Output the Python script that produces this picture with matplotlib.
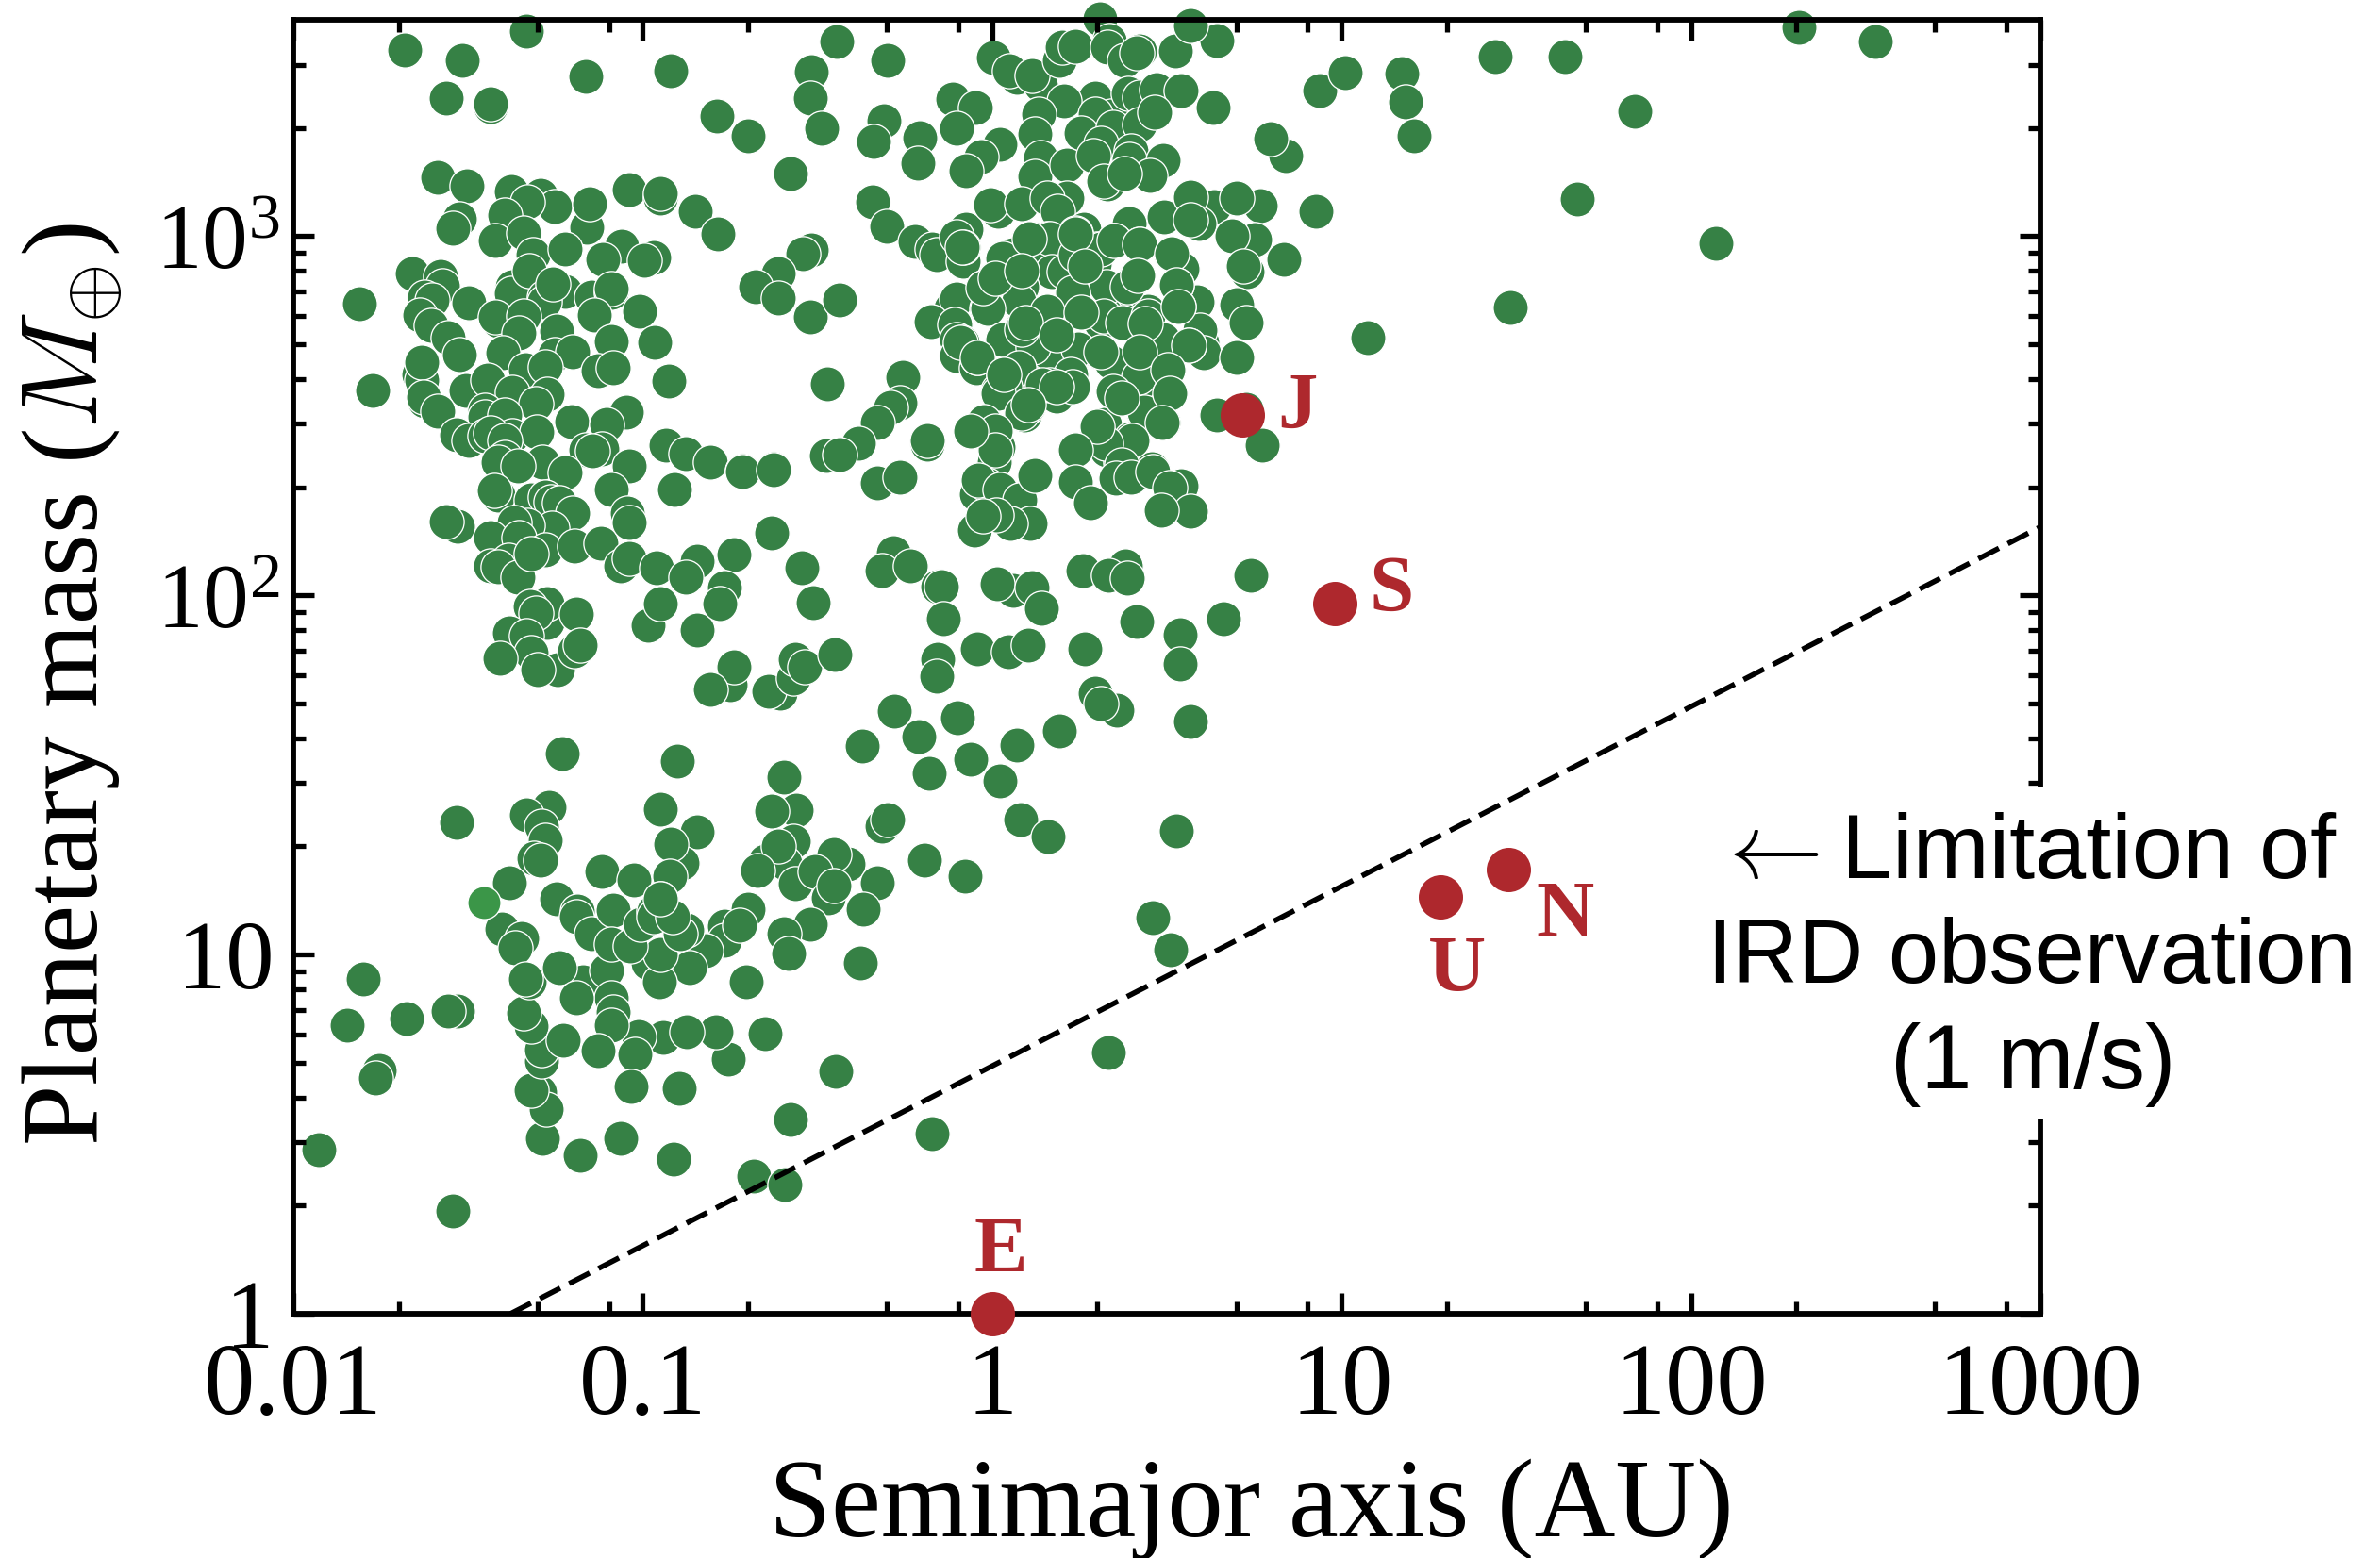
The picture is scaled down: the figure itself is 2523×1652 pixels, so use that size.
import numpy as np
import matplotlib
matplotlib.use("Agg")
import matplotlib.pyplot as plt
from matplotlib.patches import Rectangle
from matplotlib.ticker import NullFormatter

plt.rcParams['font.family'] = ['Liberation Serif', 'DejaVu Sans']
plt.rcParams['mathtext.fontset'] = 'cm'

# log10(semimajor axis / AU), log10(mass / earth), back dots first
log_a = [
 -1.682,-1.516,-1.334,-1.163,-.921,-1.562,-1.435,-1.435,-.787,-.698,-.577,-.517,-.521,-.488,
 -1.586,-1.504,-1.377,-1.294,-1.253,-1.330,-1.396,-1.161,-1.152,-1.038,-.95,-.95,-.849,-.784,
 -1.524,-1.543,-1.423,-1.340,-1.315,-1.222,-1.06,-1.114,-.97,-.996,-1.66,-1.579,-1.574,-1.625,-1.603,
 -1.81,-1.497,-1.638,-1.606,-1.558,-1.524,-1.374,-1.376,-1.326,-1.222,-1.283,-1.283,-1.257,-1.148,
 -1.09,-1.09,-1.14,-1.008,-1.413,-1.423,-1.341,-1.356,-1.248,-1.089,-.965,-1.401,-1.251,-1.2,-1.336,
 -1.278,-1.129,-1.085,-.926,-1.64,-1.633,-1.633,-1.774,-1.505,-1.444,-1.275,-1.374,-1.307,-1.625,-1.628,
 -1.587,-1.452,-1.452,-1.394,-1.203,-1.047,-1.105,-1.534,-1.498,-1.452,-1.374,-1.435,-1.303,-1.162,-1.117,
 -.933,-.876,-.806,-.714,-.625,-1.04,-.517,-.541,-.613,-.676,-.613,-.521,
 -.444,-.298,-.31,-.339,-.206,-.212,-.113,-.048,-.101,.022,-.033,-.075,.003,.07,.049,.138,.113,
 .191,.2,.238,.309,.335,.33,.379,.422,.414,.523,.642,.567,.938,1.01,.294,.205,.133,.123,.34,.294,.253,
 .345,.388,.422,.47,.54,.422,.465,.632,.138,.121,.215,.311,.29,.398,.393,.489,.451,.33,.318,.379,
 .841,.798,.926,-.342,-.301,-.222,-.171,-.159,-.075,-.103,-.084,-.084,.017,-.005,.085,.215,.156,.186,
 .128,.104,.263,.239,.393,.35,.422,.491,.636,.567,.591,.567,.767,.701,.75,.685,.834,.73,.719,
 .542,.512,.586,.533,.528,.388,.414,.335,.239,.263,.219,.186,.06,.085,.085,.007,-.026,-.118,-.103,
 -.017,.075,.147,.234,.446,.311,.374,.436,.251,.701,.726,.6,.595,.605,.562,.701,-.176,-.436,-.108,
 -.103,-.087,-.103,-.046,-.044,.033,.031,.094,.085,.109,.157,.184,.234,.311,.34,.485,.424,.504,.509,
 .412,.345,.372,.432,.489,.224,.224,.147,.186,.051,.017,.091,.104,-.256,-.265,-.29,-.328,-.473,-.383,
 -.475,-.436,-.185,-.185,-.022,-.06,.007,.017,.007,.239,.321,.301,.326,.398,.369,.456,.642,.774,.727,
 .157,.283,.301,.324,.418,.076,.184,.157,.148,-1.395,-1.143,-1.395,
 # dense clump around 1-3 AU, second reading from a closer look
 .031,.13,.166,.17,.207,.238,.292,.31,.328,.387,.229,.085,.076,-.014,-.027,.157,.031,.117,.085,.247,
 .319,.373,.445,.49,.076,.225,.229,.166,.036,.018,.342,.418,.346,.436,.085,-.023,.009,.009,
 .105,.238,.349,.423,.513,.265,.415,.528,.532,.009,.085,-.086,.253,.096,.184,.439,.562,.31,.423,-.09,
 -.044,.034,.144,.184,.504,.508,.37,.487,.103,-.061,.4,.324,.299,.238,.371,
 -1.413,-1.288,-1.357,-1.222,-1.413,-1.426,-1.32,-1.278,-1.264,-1.24,-1.201,-1.259,-1.331,-1.368,
 -1.529,-1.562,-1.437,-1.355,-1.278,-1.196,-1.119,-1.089,-1.045,-1.04,-1.063,-1.04,-.96,-.909,-.844,
 -.876,-.74,-.632,-.716,-.625,-.545,-.512,-.984,-.95,-.844,-.767,-.779,-1.437,-1.384,-1.413,-1.358,
 -1.321,-1.273,-1.275,-1.323,-1.305,-1.191,-1.382,-1.334,-1.321,-1.408,-1.244,-1.302,-1.196,-1.179,
 -.75,-.738,-.808,-.608,-.639,-.57,-.563,-.536,-1.23,-.902,-.597,-.95,-.844,-.888,-.921,-.923,-.95,
 -1.117,-1.025,-1.532,-1.268,-1.333,-1.29,-1.278,-1.312,-1.293,-1.381,-.56,-.632,-.57,-.651,-.594,-.611,
 -.671,-.565,-.698,
 -.33,-.264,-.046,-.017,-.041,.022,.08,.122,-.05,.109,.051,.012,-.026,.354,.239,.282,.398,.46,.54,.509,
 .567,.485,-.284,-.314,-.234,-.156,-.144,-.14,.06,.015,.115,.142,.26,.38,.332,.386,.74,.414,.539,.663,
 .539,.265,-.044,.046,.104,-.449,-.155,-.158,.295,.357,.311,.567,-.281,-.099,-.211,-.371,.07,.191,
 -.062,-.179,.023,.082,.161,.528,-.316,-.299,-.412,-.453,-.508,-.47,-.454,-.33,-.193,-.077,-.369,
 -1.246,-1.187,-1.189,-1.403,-1.346,-1.365,-1.147,-1.085,-.52,-.596,-.582,-.765,-.765,-.723,-.821,-.867,
 -.378,-.704,-.943,-1.012,-1.024,-.756,-.791,-.873,-.651,-.448,-.578,-.173,-.896,-1.033,-.683,-.594,
 -.912,-1.064,-1.179,-1.287,-1.544,-1.928,-1.295,-1.277,-1.319,-1.29,-1.29,-1.32,-1.341,-1.325,-1.335,
 -1.172,-1.238,-1.103,-1.09,-1.19,-1.084,-1.09,-1.229,-1.129,-.984,-.952,-.949,-.873,-.894,-1.09,
 -1.036,-1.006,-.97,-.97,-.915,-.95,-1.53,-1.556,-1.799,-1.846,-1.676,-1.755,-1.766,
 .459,.511,.333,1.076,1.171,1.184,1.206,1.44,1.64,1.675,1.484,1.84,2.07,2.309,2.527,
]
log_m = [
 3.519,3.489,3.571,3.444,3.460,3.383,3.361,3.368,3.334,3.280,3.173,3.458,3.385,3.301,
 3.164,3.139,3.125,3.114,3.082,3.095,3.058,3.025,3.089,3.130,3.105,3.118,3.068,3.005,
 3.048,3.022,2.989,3.009,2.948,2.964,2.972,2.936,2.941,2.933,2.897,2.888,2.863,2.83,2.823,
 2.811,2.815,2.781,2.751,2.718,2.669,2.858,2.84,2.904,2.847,2.829,2.818,2.867,2.83,
 2.843,2.853,2.781,2.79,2.764,2.774,2.777,2.731,2.736,2.707,2.705,2.676,2.669,2.678,2.628,
 2.635,2.626,2.634,2.597,2.615,2.598,2.648,2.57,2.57,2.6,2.561,2.566,2.533,2.541,2.551,
 2.512,2.515,2.497,2.501,2.483,2.51,2.477,2.446,2.43,2.445,2.445,2.451,2.456,2.405,2.408,
 2.418,2.394,2.37,2.348,2.353,2.361,2.961,2.952,2.897,2.858,2.828,2.775,
 3.542,3.489,3.322,3.264,3.273,3.203,3.382,3.358,3.299,3.256,3.221,3.182,3.497,3.442,3.459,3.42,3.448,
 3.49,3.525,3.529,3.604,3.543,3.527,3.49,3.515,3.509,3.516,3.543,3.585,3.404,3.455,3.385,3.375,3.34,3.284,3.333,3.339,3.286,
 3.302,3.398,3.387,3.407,3.406,3.311,3.346,3.359,3.219,3.166,3.199,3.258,3.223,3.236,3.214,3.21,3.169,3.144,3.153,3.175,
 3.225,3.271,3.068,3.096,3.028,2.984,2.963,2.949,3.019,2.998,2.93,2.969,3.07,3.088,3.089,3.105,3.105,3.07,
 2.991,2.991,3.018,3.009,3.035,2.989,2.978,3.053,3.081,3.109,3.035,3.046,3.086,3.105,2.991,3.0,2.934,2.9,2.917,
 2.908,2.952,2.816,2.803,2.864,2.86,2.891,2.851,2.952,2.917,2.904,2.9,2.948,2.902,2.86,2.882,2.856,2.799,2.825,
 2.799,2.816,2.786,2.843,2.79,2.76,2.768,2.755,2.79,2.808,2.759,2.703,2.738,2.676,2.696,2.663,2.762,2.822,2.755,
 2.711,2.703,2.668,2.633,2.661,2.615,2.711,2.755,2.746,2.698,2.668,2.725,2.668,2.676,2.65,2.694,2.676,2.628,2.563,
 2.606,2.567,2.549,2.51,2.48,2.58,2.62,2.585,2.582,2.589,2.571,2.501,2.526,2.606,2.536,2.523,2.481,2.589,2.423,
 2.388,2.392,2.421,2.43,2.484,2.458,2.458,2.414,2.37,2.405,2.475,2.458,2.405,2.436,2.37,2.353,2.501,2.418,2.519,
 2.992,2.93,2.965,2.782,2.589,2.633,2.554,2.677,2.782,2.431,2.401,2.383,
 # dense clump around 1-3 AU, second reading from a closer look
 2.939,2.965,2.992,2.9,2.9,2.948,2.921,2.965,2.86,2.86,2.843,2.86,2.821,2.799,2.856,2.79,2.711,2.69,2.742,2.685,
 2.777,2.76,2.777,2.712,2.633,2.615,2.58,2.585,2.58,2.563,2.65,2.607,2.567,2.51,2.506,2.484,2.458,2.405,
 2.993,3.007,2.989,2.978,2.952,2.917,2.891,2.865,2.803,2.882,2.904,2.97,2.789,2.758,2.725,2.757,2.696,2.678,2.677,2.703,
 2.661,2.615,2.585,2.58,2.628,2.563,2.549,2.48,2.532,2.458,2.432,2.423,2.471,2.405,2.362,
 2.37,2.37,2.359,2.342,2.278,2.293,2.266,2.273,2.26,2.258,2.23,2.186,2.195,2.202,
 2.192,2.205,2.16,2.16,2.126,2.138,2.144,2.294,2.23,2.202,2.081,2.103,2.077,2.294,2.094,
 2.05,2.114,2.175,2.345,2.35,2.077,1.979,1.917,1.978,1.903,2.022,1.976,2.081,2.099,2.079,2.05,
 2.116,1.924,1.978,1.969,1.95,1.948,1.896,1.887,1.84,1.824,1.794,1.794,1.845,1.862,
 1.75,1.801,1.738,1.727,1.734,1.77,1.823,1.801,1.56,1.539,1.493,1.405,1.341,1.254,1.308,1.219,1.154,
 1.232,1.209,1.369,1.41,1.388,1.357,1.317,1.267,1.263,1.199,1.403,1.399,1.316,1.259,1.254,1.301,
 1.234,1.197,1.127,
 2.313,2.329,2.282,2.309,2.322,2.295,2.265,2.333,2.182,2.199,2.199,2.224,2.221,2.326,2.315,2.258,2.33,2.344,2.304,2.3,
 2.234,2.236,2.12,2.07,2.081,2.024,2.024,1.934,2.015,2.031,2.022,1.965,2.07,2.081,2.057,2.048,2.057,1.926,1.891,1.934,
 1.808,1.851,1.851,1.843,1.862,1.834,1.823,1.775,1.727,1.679,1.698,1.648,1.677,1.658,1.606,1.58,1.584,1.622,
 1.543,1.504,1.483,1.377,1.329,1.343,1.357,1.377,1.252,1.278,1.232,1.159,1.193,1.199,1.263,1.217,1.127,
 1.154,1.121,1.105,1.07,1.046,1.019,1.057,1.124,1.084,1.057,1.003,1.078,1.04,1.082,1.012,.963,
 .977,.923,.77,.773,.722,.708,.786,.786,.781,.676,.542,.501,.627,.632,.383,.359,
 .431,.488,.44,.488,.287,.456,.617,.569,.622,.703,.735,.8,.837,.923,.931,
 .923,.964,.955,.88,.88,.839,.803,.762,.732,.977,.923,1.0,1.068,1.057,1.03,
 1.024,1.084,1.121,1.105,1.105,1.156,.844,.844,.933,.803,.823,.678,.657,
 1.103,1.014,.727,2.718,3.453,3.373,3.28,3.5,3.5,3.102,2.802,3.347,2.98,3.58,3.542,
]
assert len(log_a) == len(log_m), (len(log_a), len(log_m))

# the one lighter dot
odd_a, odd_m = [-1.455], [1.145]

# solar system
planet_names = ['E', 'J', 'S', 'U', 'N']
planet_a = [1.0, 5.2, 9.54, 19.2, 30.1]
planet_m = [1.0, 318, 95, 14.5, 17.2]
label_off = [(9, 64), (58, 6), (60, 12), (17, -80), (60, -50)]

# 1 m/s limit
limit_a = [0.0418, 1000]
limit_m = [1, 155]

x_major = [0.01, 0.1, 1, 10, 100, 1000]
x_labels = ['0.01', '0.1', '1', '10', '100', '1000']
y_major = [1, 10, 100, 1000]
y_labels = ['1', '10', r'$\mathdefault{10^{2}}$', r'$\mathdefault{10^{3}}$']

W, H = 2523, 1652
GREEN = '#368145'
RED = '#AE282D'


def px(x, y):
    return x / W, 1 - y / H


fig = plt.figure(figsize=(W / 100, H / 100), dpi=100)
ax = fig.add_axes([311 / W, 1 - 1393 / H, (2163 - 311) / W, (1393 - 21) / H])

ax.set_xscale('log')
ax.set_yscale('log')

ax.scatter(10 ** np.array(log_a), 10 ** np.array(log_m), s=718, color=GREEN,
           edgecolor='white', linewidth=0.95, clip_on=False, zorder=1)
ax.scatter(10 ** np.array(odd_a), 10 ** np.array(odd_m), s=640, color='#3B9648',
           edgecolor='white', linewidth=0.95, clip_on=False, zorder=1)
ax.plot(limit_a, limit_m, color='black', lw=4, dashes=(4.4, 1.9), zorder=2)
ax.scatter(planet_a, planet_m, s=1145, color=RED, linewidth=0, clip_on=False, zorder=4)

for name, a, m, off in zip(planet_names, planet_a, planet_m, label_off):
    ax.annotate(name, (a, m), xytext=(off[0] * 0.72, off[1] * 0.72), textcoords='offset points',
                ha='center', va='center', color=RED, fontsize=61, fontweight='bold', zorder=5)

ax.set_xlim(0.01, 1000)
ax.set_ylim(1, 4000)

x_minor = [d * s for d in x_major[:-1] for s in (2, 5, 8)]
y_minor = [d * s for d in y_major for s in range(2, 10) if d * s < 4000]
ax.set_xticks(x_major)
ax.set_xticklabels(x_labels)
ax.set_xticks(x_minor, minor=True)
ax.set_yticks(y_major)
ax.set_yticklabels(y_labels)
ax.set_yticks(y_minor, minor=True)
ax.xaxis.set_minor_formatter(NullFormatter())
ax.yaxis.set_minor_formatter(NullFormatter())

ax.tick_params(which='major', direction='in', length=16, width=3.8, top=True, right=True)
ax.tick_params(which='minor', direction='in', length=9.4, width=3.8, top=True, right=True)
ax.tick_params(axis='x', which='major', labelsize=78, pad=22)
ax.tick_params(axis='y', which='major', labelsize=74, pad=15)
for sp in ax.spines.values():
    sp.set_linewidth(4.2)
for tick in ax.yaxis.get_major_ticks()[2:]:
    tick.set_pad(10.4)
    tick.label1.set_fontsize(70)

x, y = px(1326, 1629)
fig.text(x, y, 'Semimajor axis (AU)', fontsize=85.5, ha='center', va='baseline')
x, y = px(103, 726)
fig.text(x, y, r'Planetary mass ($M_{\oplus}$)', fontsize=83, rotation=90,
         ha='center', va='baseline', rotation_mode='anchor')

# white box of the note cuts the right spine
x, y = px(1800, 1186)
fig.add_artist(Rectangle((x, y), (W - 1800) / W, (1186 - 834) / H, transform=fig.transFigure,
                         facecolor='white', edgecolor='none', zorder=2))

sans = ['Liberation Sans', 'DejaVu Sans']
x, y = px(2476, 931)
fig.text(x, y, 'Limitation of', fontsize=70, family=sans, ha='right', va='baseline', zorder=3)
x, y = px(1872, 931)
fig.text(x, y, r'$\leftarrow$', fontsize=72, ha='center', va='baseline', zorder=3)
x, y = px(2154, 1042)
fig.text(x, y, 'IRD observation', fontsize=69, family=sans, ha='center', va='baseline', zorder=3)
x, y = px(2155, 1154)
fig.text(x, y, '(1 m/s)', fontsize=70, family=sans, ha='center', va='baseline', zorder=3)

fig.savefig('out.png', dpi=100)
